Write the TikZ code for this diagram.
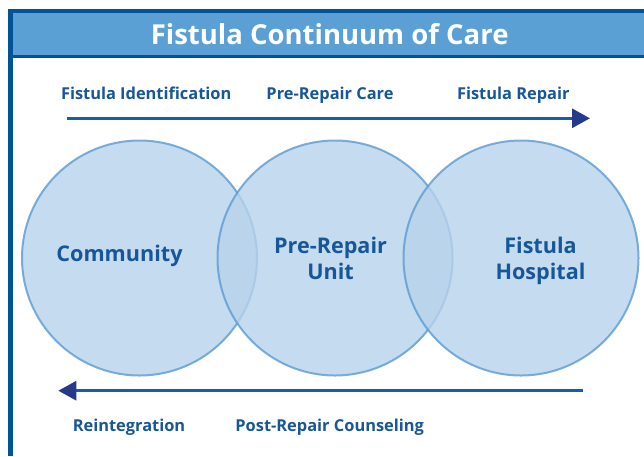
\documentclass[tikz,border=0pt]{standalone}
\usepackage{fontspec}
\setmainfont{Open Sans}
\usepackage{xcolor}
\usetikzlibrary{arrows.meta}

\definecolor{frameblue}{RGB}{0,84,150}
\definecolor{bandblue}{RGB}{91,160,213}
\definecolor{textblue}{RGB}{23,86,152}
\definecolor{lineblue}{RGB}{28,92,162}
\definecolor{headblue}{RGB}{38,58,140}
\definecolor{circfill}{RGB}{183,210,235}
\definecolor{circline}{RGB}{92,155,211}

\begin{document}
\begin{tikzpicture}[x=1pt, y=-1pt,
    stage/.style={inner sep=0, anchor=base, text=textblue, font=\fontsize{16.4}{20}\selectfont\bfseries},
    place/.style={inner sep=0, anchor=base, text=textblue, align=center, font=\fontsize{21.6}{26}\selectfont\bfseries},
    venn/.style={circle, minimum size=235pt, inner sep=0, draw=circline, line width=2pt, fill=circfill, opacity=0.8},
    flow/.style={line width=3pt, draw=lineblue, -{Triangle[length=18pt, width=19pt, color=headblue]}}]
        \useasboundingbox (0,0) rectangle (644,456);

        % frame and title band
        \fill[bandblue] (12.7,13.3) rectangle (644,55);
        \fill[frameblue] (8,9) rectangle (644,13.3);
        \fill[frameblue] (8,9) rectangle (12.7,456);
        \fill[frameblue] (12.7,55) rectangle (644,58);
        \node[inner sep=0, anchor=base, text=white, font=\fontsize{27.5}{32}\selectfont\bfseries] (title) at (329.7,44.3) {Fistula Continuum of Care};

        % circles
        \node[venn] (community) at (139.5,258) {};
        \node[venn] (unit) at (335,258) {};
        \node[venn] (hospital) at (521,258) {};

        \node[place] (communitytext) at (119.5,261.7) {Community};
        \node[place] (unittext) at (330.5,279) {Pre-Repair\\Unit};
        \node[place] (hospitaltext) at (540.5,279) {Fistula\\Hospital};

        % top arrow
        \node[stage] (ident) at (146.2,99) {Fistula Identification};
        \node[stage] (precare) at (330,99) {Pre-Repair Care};
        \node[stage] (repair) at (513.3,99) {Fistula Repair};
        \coordinate (topstart) at (67,118.3);
        \coordinate (topend) at (590,118.3);
        \draw[flow] (topstart) -- (topend);

        % bottom arrow
        \coordinate (botstart) at (583,390.7);
        \coordinate (botend) at (58.3,390.7);
        \draw[flow] (botstart) -- (botend);
        \node[stage] (reint) at (129,431.7) {Reintegration};
        \node[stage] (counsel) at (329.7,431.7) {Post-Repair Counseling};
    \end{tikzpicture}
\end{document}
